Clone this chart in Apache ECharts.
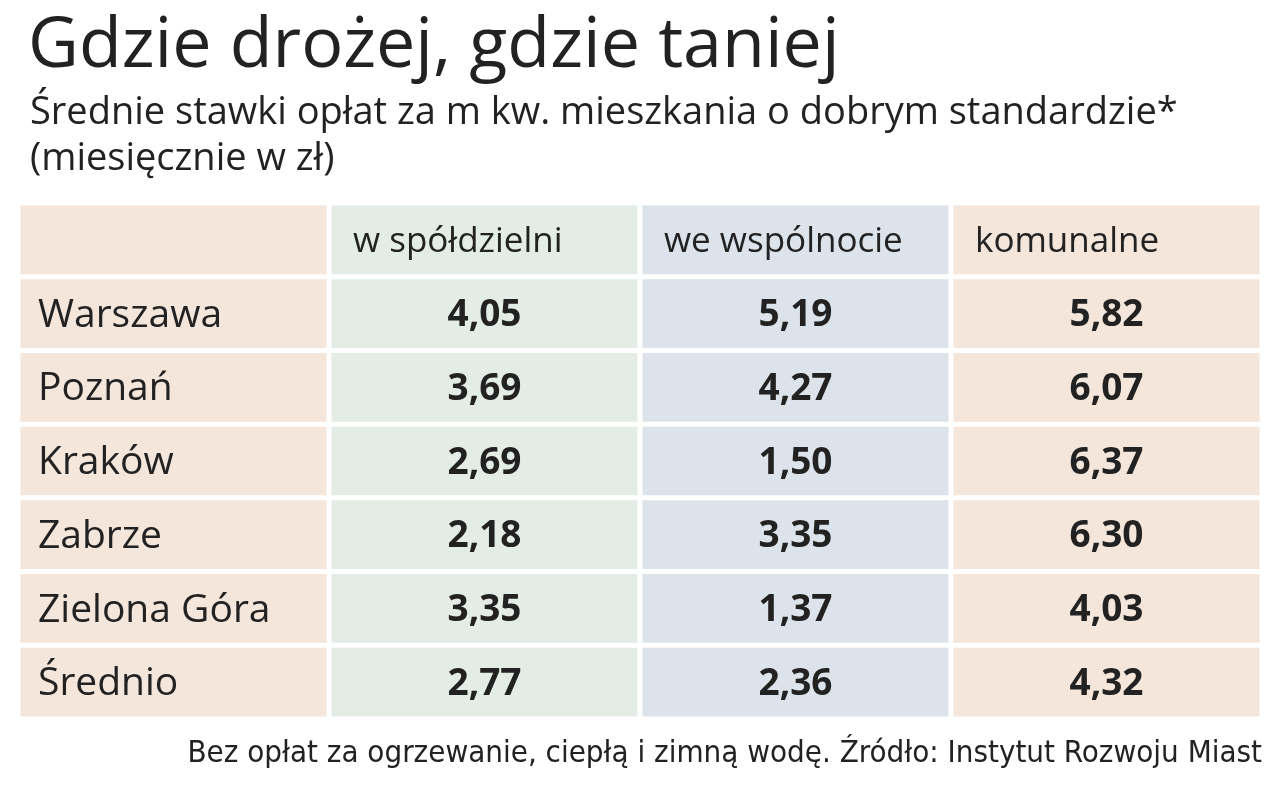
<!DOCTYPE html>
<html>
<head>
<meta charset="utf-8">
<script src="https://cdn.jsdelivr.net/npm/echarts@6/dist/echarts.min.js"></script>
<style>html,body{margin:0;background:#fff}#chart{width:1280px;height:793px}</style>
</head>
<body>
<div id="chart"></div>
<script>
var cities = ['Warszawa', 'Poznań', 'Kraków', 'Zabrze', 'Zielona Góra', 'Średnio'];
var columns = ['', 'w spółdzielni', 'we wspólnocie', 'komunalne'];
var coop = [4.05, 3.69, 2.69, 2.18, 3.35, 2.77];
var community = [5.19, 4.27, 1.50, 3.35, 1.37, 2.36];
var municipal = [5.82, 6.07, 6.37, 6.30, 4.03, 4.32];

var colColors = ['#f4e6da', '#e4ede5', '#dde3ea', '#f4e6da'];
var rows = ['header'].concat(cities);

function fmt(v) { return v.toFixed(2).replace('.', ','); }

var cells = [];
for (var r = 0; r < rows.length; r++) {
    for (var c = 0; c < 4; c++) {
        var text, kind;
        if (r == 0) { text = columns[c]; kind = 'head'; }
        else if (c == 0) { text = cities[r - 1]; kind = 'city'; }
        else {
            var arr = [coop, community, municipal][c - 1];
            text = fmt(arr[r - 1]); kind = 'val';
        }
        cells.push({ value: [c, r], text: text, kind: kind });
    }
}

var chart = echarts.init(document.getElementById('chart'));
chart.setOption({
    animation: false,
    grid: { left: 18, right: 18, top: 203, bottom: 74 },
    xAxis: { type: 'category', data: columns, show: false },
    yAxis: { type: 'category', data: rows, inverse: true, show: false },
    graphic: [
        { type: 'text', left: 28, top: 12, style: { text: 'Gdzie drożej, gdzie taniej', font: '70px "Open Sans"', fill: '#222' } },
        { type: 'text', left: 30, top: 90, style: { text: 'Średnie stawki opłat za m kw. mieszkania o dobrym standardzie*\n(miesięcznie w zł)', font: '38px "Open Sans"', lineHeight: 46, fill: '#222' } },
        { type: 'text', right: 18, top: 738, style: { text: 'Bez opłat za ogrzewanie, ciepłą i zimną wodę. Źródło: Instytut Rozwoju Miast', font: '31px "DejaVu Sans Condensed", "Liberation Sans", sans-serif', fill: '#222' } }
    ],
    series: [{
        type: 'custom',
        data: cells,
        renderItem: function (params, api) {
            var d = cells[params.dataIndex];
            var c = api.value(0), r = api.value(1);
            var p = api.coord([c, r]);
            var w = api.size([1, 1]);
            var x0 = p[0] - w[0] / 2, y0 = p[1] - w[1] / 2;
            var tx, align, font;
            if (d.kind == 'val') { tx = p[0]; align = 'center'; font = 'bold 37px "Open Sans"'; }
            else if (d.kind == 'city') { tx = x0 + 20; align = 'left'; font = '39px "Open Sans"'; }
            else { tx = x0 + 24; align = 'left'; font = '35px "Open Sans"'; }
            return {
                type: 'group',
                children: [
                    { type: 'rect', shape: { x: x0 + 2.5, y: y0 + 2.5, width: w[0] - 5, height: w[1] - 5 }, style: { fill: colColors[c] } },
                    { type: 'text', style: { text: d.text, x: tx, y: p[1] + 2, align: align, verticalAlign: 'middle', font: font, fill: '#222' } }
                ]
            };
        }
    }]
});
</script>
</body>
</html>
